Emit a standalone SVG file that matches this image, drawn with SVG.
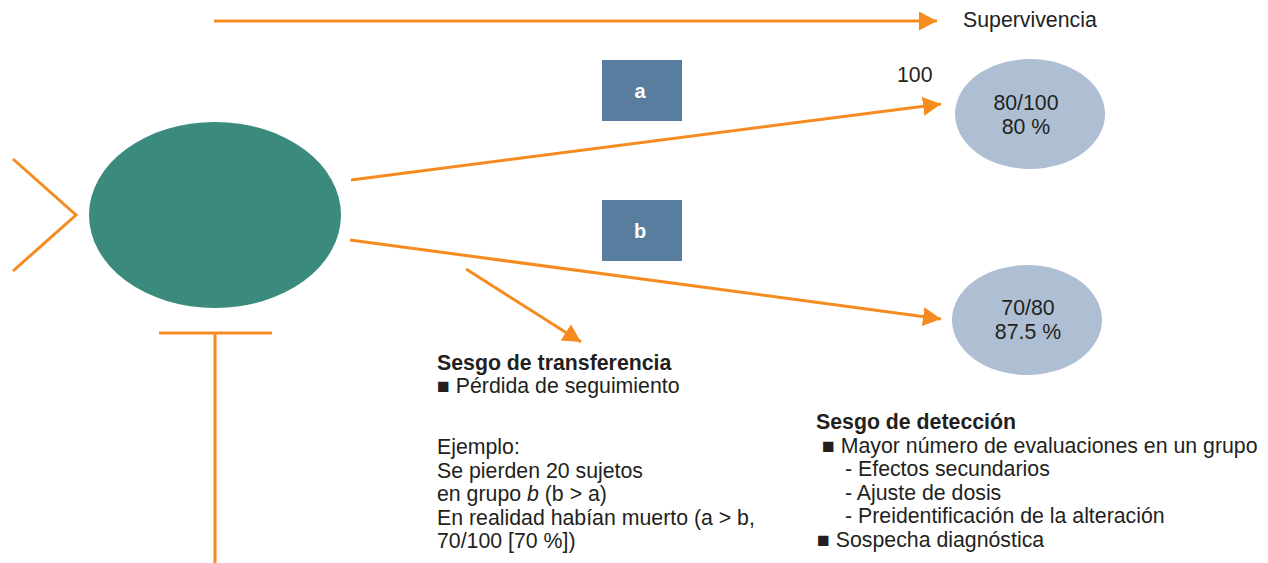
<svg xmlns="http://www.w3.org/2000/svg" width="1268" height="563" viewBox="0 0 1268 563">
<style>
.ln{stroke:#f68b1f;stroke-width:3;fill:none}
.arr{marker-end:url(#ah)}
.t{font-family:"Liberation Sans",Arial,sans-serif;font-size:21.3px;fill:#231f20}
.b{font-weight:bold}
.c{text-anchor:middle}
.box{fill:#587d9e}
.bt{font-family:"Liberation Sans",Arial,sans-serif;font-size:20px;font-weight:bold;fill:#ffffff;text-anchor:middle}
.res{fill:#aebfd4}
</style>
<defs>
<marker id="ah" markerUnits="userSpaceOnUse" markerWidth="20" markerHeight="20" refX="18" refY="9.5" orient="auto">
<path d="M0,0 L18,9.5 L0,19 Z" fill="#f68b1f"/>
</marker>
</defs>
<rect width="1268" height="563" fill="#ffffff"/>
<g id="connectors">
<line class="ln arr" x1="214" y1="21" x2="937" y2="21"/>
<line class="ln arr" x1="351" y1="180" x2="941" y2="104"/>
<line class="ln arr" x1="350" y1="240" x2="941" y2="319"/>
<line class="ln arr" x1="466" y1="269" x2="581" y2="342"/>
<polyline class="ln" points="13,159 76,215 13,271"/>
<line class="ln" x1="159" y1="333" x2="272" y2="333"/>
<line class="ln" x1="215" y1="333" x2="215" y2="563"/>
</g>
<g id="group">
<ellipse cx="215" cy="215" rx="126" ry="93" fill="#3a8a7e"/>
</g>
<g id="supervivencia">
<text class="t" x="963" y="27">Supervivencia</text>
</g>
<g id="label-100">
<text class="t" x="897" y="82">100</text>
</g>
<g id="box-a">
<rect class="box" x="602" y="60" width="80" height="61"/>
<text class="bt" x="640" y="98">a</text>
</g>
<g id="box-b">
<rect class="box" x="602" y="200" width="80" height="61"/>
<text class="bt" x="640" y="238">b</text>
</g>
<g id="result-a">
<ellipse class="res" cx="1030" cy="114" rx="75" ry="55"/>
<text class="t c" x="1026" y="110">80/100</text>
<text class="t c" x="1026" y="134">80 %</text>
</g>
<g id="result-b">
<ellipse class="res" cx="1027" cy="320" rx="75" ry="55"/>
<text class="t c" x="1028" y="315">70/80</text>
<text class="t c" x="1028" y="339">87.5 %</text>
</g>
<g id="transferencia">
<text class="t b" x="437" y="370">Sesgo de transferencia</text>
<text class="t" x="437" y="393">■ Pérdida de seguimiento</text>
<text class="t" x="437" y="454">Ejemplo:</text>
<text class="t" x="437" y="478">Se pierden 20 sujetos</text>
<text class="t" x="437" y="501">en grupo <tspan font-style="italic">b</tspan> (b &gt; a)</text>
<text class="t" x="437" y="525">En realidad habían muerto (a &gt; b,</text>
<text class="t" x="437" y="548">70/100 [70 %])</text>
</g>
<g id="deteccion">
<text class="t b" x="816" y="429">Sesgo de detección</text>
<text class="t" x="822" y="453">■ Mayor número de evaluaciones en un grupo</text>
<text class="t" x="845" y="476">- Efectos secundarios</text>
<text class="t" x="845" y="500">- Ajuste de dosis</text>
<text class="t" x="845" y="523">- Preidentificación de la alteración</text>
<text class="t" x="817" y="547">■ Sospecha diagnóstica</text>
</g>
</svg>
